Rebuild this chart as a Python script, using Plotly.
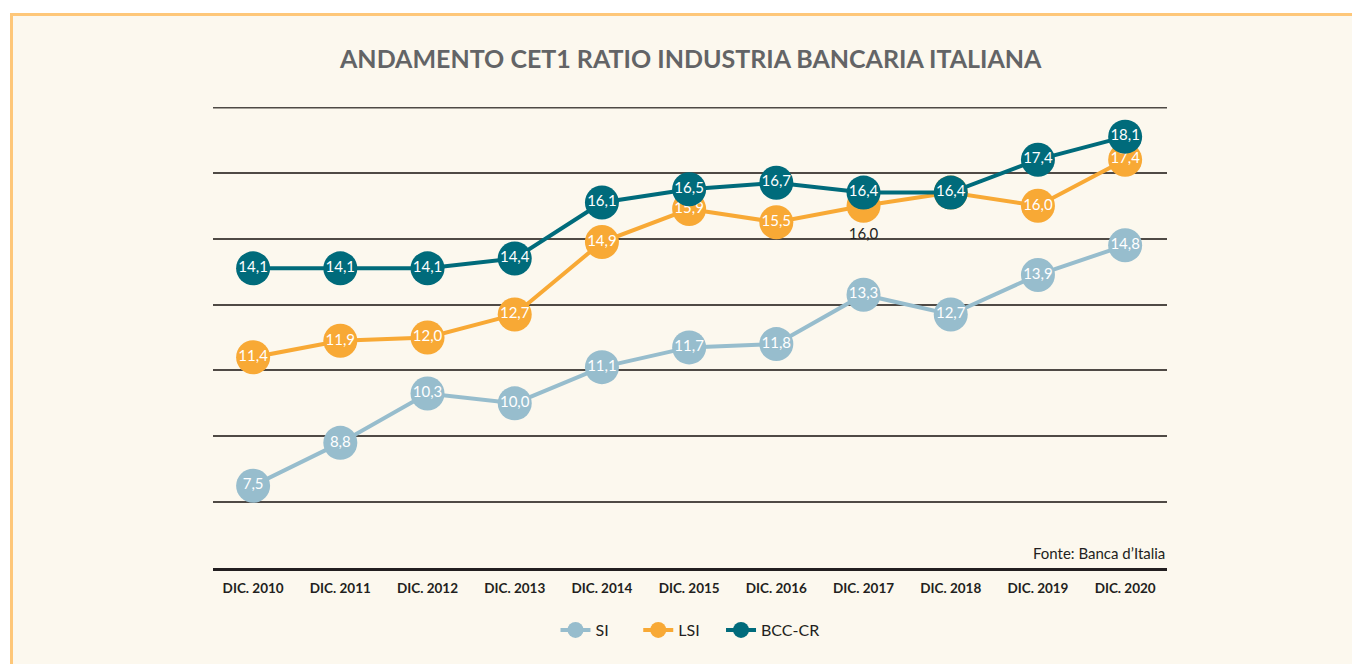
import plotly.graph_objects as go

years = ["DIC. 2010", "DIC. 2011", "DIC. 2012", "DIC. 2013", "DIC. 2014", "DIC. 2015",
         "DIC. 2016", "DIC. 2017", "DIC. 2018", "DIC. 2019", "DIC. 2020"]
series_names = ["SI", "LSI", "BCC-CR"]
si = [7.5, 8.8, 10.3, 10.0, 11.1, 11.7, 11.8, 13.3, 12.7, 13.9, 14.8]
lsi = [11.4, 11.9, 12.0, 12.7, 14.9, 15.9, 15.5, 16.0, 16.4, 16.0, 17.4]
bcc = [14.1, 14.1, 14.1, 14.4, 16.1, 16.5, 16.7, 16.4, 16.4, 17.4, 18.1]
grid_vals = [7, 9, 11, 13, 15, 17, 19]

x = list(range(len(years)))
FONT = "Lato"
NB = "\u00a0"

def lab(vals):
    return [f"{v:.1f}".replace(".", ",") for v in vals]

def trace(name, vals, color, pos=None, tcol=None):
    n = len(vals)
    return go.Scatter(
        x=x, y=vals, name=name, mode="lines+markers+text",
        line=dict(color=color, width=4),
        marker=dict(color=color, size=34, line=dict(width=0)),
        text=lab(vals),
        textposition=pos if pos else ["middle center"] * n,
        textfont=dict(family=FONT, size=15, color=tcol if tcol else ["white"] * n),
        cliponaxis=False, hoverinfo="skip",
    )

lsi_pos = ["middle center"] * len(lsi)
lsi_col = ["white"] * len(lsi)
lsi_pos[7] = "bottom center"
lsi_col[7] = "#231f20"

fig = go.Figure()
fig.add_trace(trace(series_names[0] + NB * 6, si, "#97bdcd"))
fig.add_trace(trace(series_names[1] + NB * 4, lsi, "#f8a935", lsi_pos, lsi_col))
fig.add_trace(trace(series_names[2], bcc, "#006b7b"))

# page offset of 8px (body margin)
OFF = 8
PL, PR, PT, PB = 213, 1167, 107, 568  # plot area in page px
W, H = 1360 - OFF, 664 - OFF
L, T = PL - OFF, PT - OFF
pw, ph = PR - PL, PB - PT
R, B = W - L - pw, H - T - ph

def px(xp):
    return (xp - PL) / pw

def py(yp):
    return (PB - yp) / ph

fig.update_layout(
    width=W, height=H,
    margin=dict(l=L, r=R, t=T, b=B),
    paper_bgcolor="white",
    plot_bgcolor="rgba(0,0,0,0)",
    font=dict(family=FONT, color="#231f20"),
    showlegend=True,
    legend=dict(orientation="h", x=0.5, xanchor="center", y=py(630), yanchor="middle",
                font=dict(family=FONT, size=16, color="#231f20"), bgcolor="rgba(0,0,0,0)",
                traceorder="normal", itemwidth=30),
    shapes=[
        dict(type="rect", xref="paper", yref="paper",
             x0=px(11.5), x1=px(1380), y0=py(690), y1=py(14.5),
             line=dict(color="#fec779", width=3), fillcolor="#fcf8ee", layer="below"),
        dict(type="line", xref="paper", yref="paper", x0=0, x1=1, y0=py(107.8), y1=py(107.8),
             line=dict(color="#4f4a45", width=1.5), layer="below"),
    ],
    annotations=[
        dict(text="<b>ANDAMENTO CET1 RATIO INDUSTRIA BANCARIA ITALIANA</b>",
             xref="paper", yref="paper", x=0.5, y=py(58), xanchor="center", yanchor="middle",
             showarrow=False, font=dict(family=FONT, size=25, color="#636466")),
        dict(text="Fonte: Banca d\u2019Italia", xref="paper", yref="paper", x=1, y=py(553),
             xanchor="right", yanchor="middle", showarrow=False,
             font=dict(family=FONT, size=15, color="#231f20")),
    ],
)

fig.update_xaxes(
    range=[-0.46, 10.48], tickmode="array", tickvals=x, ticktext=years,
    showgrid=False, zeroline=False, showline=True, linecolor="#231f20", linewidth=3,
    ticks="outside", ticklen=6, tickcolor="rgba(0,0,0,0)",
    tickfont=dict(family=FONT, size=13.5, color="#231f20", weight="bold"),
    fixedrange=True,
)
fig.update_yaxes(
    range=[5, 19], tickmode="array", tickvals=grid_vals,
    showticklabels=False, showgrid=True, gridcolor="#4f4a45", gridwidth=1.5,
    zeroline=False, showline=False, fixedrange=True,
)

fig.write_html("out.html")
